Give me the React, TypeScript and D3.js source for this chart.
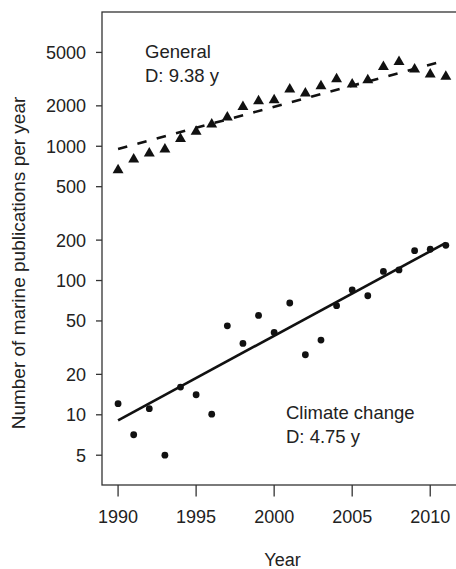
import React, { useEffect, useRef } from 'react'
import * as d3 from 'd3'

// years 1990..2011
const years = [1990, 1991, 1992, 1993, 1994, 1995, 1996, 1997, 1998, 1999, 2000,
  2001, 2002, 2003, 2004, 2005, 2006, 2007, 2008, 2009, 2010, 2011]
const general = [665, 800, 885, 950, 1135, 1285, 1455, 1640, 1970, 2170, 2210,
  2650, 2480, 2810, 3160, 2890, 3110, 3900, 4250, 3740, 3430, 3300]
const climate = [12.1, 7.1, 11.1, 5.0, 16.1, 14.1, 10.1, 46, 34, 55, 41,
  68, 28, 36, 65, 85, 77, 117, 120, 167, 171, 183]
// fitted trend lines (start / end)
const fitYears = [1990, 2011]
const generalFit = [955, 4360]
const climateFit = [9.1, 191]
const yTicks = [5, 10, 20, 50, 100, 200, 500, 1000, 2000, 5000]
const xTicks = [1990, 1995, 2000, 2005, 2010]

const W = 456, H = 569
const font = '"Liberation Sans", Arial, sans-serif'
const ink = '#222'
const fs = 18

export default function App() {
  const ref = useRef<SVGSVGElement>(null)

  useEffect(() => {
    const svg = d3.select(ref.current)
    svg.selectAll('*').remove()

    const x = d3.scaleLinear().domain([1988.97, 2012.1]).range([102, 463])
    const y = d3.scaleLog().domain([3, 10000]).range([485, 12])
    const [x0, x1] = x.range()
    const [y0, y1] = y.range()

    // box (right side runs off the picture)
    svg.append('rect')
      .attr('x', x0).attr('y', y1)
      .attr('width', x1 - x0).attr('height', y0 - y1)
      .attr('fill', 'none').attr('stroke', '#333').attr('stroke-width', 1.3)

    // y axis
    const ya = svg.append('g')
    ya.selectAll('line').data(yTicks).enter().append('line')
      .attr('x1', x0 - 6).attr('x2', x0)
      .attr('y1', d => y(d)).attr('y2', d => y(d))
      .attr('stroke', '#333').attr('stroke-width', 1.3)
    ya.selectAll('text').data(yTicks).enter().append('text')
      .attr('x', x0 - 16).attr('y', d => y(d))
      .attr('dy', '0.36em')
      .attr('text-anchor', 'end')
      .attr('font-family', font).attr('font-size', fs).attr('fill', ink)
      .text(d => String(d))

    // x axis
    const xa = svg.append('g')
    xa.selectAll('line').data(xTicks).enter().append('line')
      .attr('x1', d => x(d)).attr('x2', d => x(d))
      .attr('y1', y0).attr('y2', y0 + 11.5)
      .attr('stroke', '#333').attr('stroke-width', 1.3)
    xa.selectAll('text').data(xTicks).enter().append('text')
      .attr('x', d => x(d)).attr('y', 523)
      .attr('text-anchor', 'middle')
      .attr('font-family', font).attr('font-size', fs).attr('fill', ink)
      .text(d => String(d))

    svg.append('text')
      .attr('x', (x0 + x1) / 2).attr('y', 566)
      .attr('text-anchor', 'middle')
      .attr('font-family', font).attr('font-size', fs).attr('fill', ink)
      .text('Year')
    svg.append('text')
      .attr('transform', 'translate(25,263) rotate(-90)')
      .attr('text-anchor', 'middle')
      .attr('font-family', font).attr('font-size', 19).attr('fill', ink)
      .text('Number of marine publications per year')

    // trend lines
    const line = d3.line<number>().x((d, i) => x(fitYears[i])).y(d => y(d))
    svg.append('path').attr('d', line(generalFit))
      .attr('fill', 'none').attr('stroke', '#111').attr('stroke-width', 2.6)
      .attr('stroke-dasharray', '9.5,10.5')
    svg.append('path').attr('d', line(climateFit))
      .attr('fill', 'none').attr('stroke', '#111').attr('stroke-width', 2.6)

    // points
    const tri = d3.symbol().type(d3.symbolTriangle).size(52)
    svg.append('g').selectAll('path').data(general).enter().append('path')
      .attr('d', tri)
      .attr('transform', (d, i) => 'translate(' + x(years[i]) + ',' + y(d) + ')')
      .attr('fill', '#111')
    svg.append('g').selectAll('circle').data(climate).enter().append('circle')
      .attr('cx', (d, i) => x(years[i])).attr('cy', d => y(d))
      .attr('r', 3.4).attr('fill', '#111')

    // labels
    const lab = (t: string, px: number, py: number) =>
      svg.append('text').attr('x', px).attr('y', py)
        .attr('font-family', font).attr('font-size', 18.5).attr('fill', ink).text(t)
    lab('General', 145, 57.5)
    lab('D: 9.38 y', 145, 82)
    lab('Climate change', 286, 419)
    lab('D: 4.75 y', 286, 443)
  }, [])

  return (
    <div style={{ position: 'absolute', left: 0, top: 0 }}>
      <svg ref={ref} width={W} height={H} style={{ display: 'block', background: '#fff' }} />
    </div>
  )
}
